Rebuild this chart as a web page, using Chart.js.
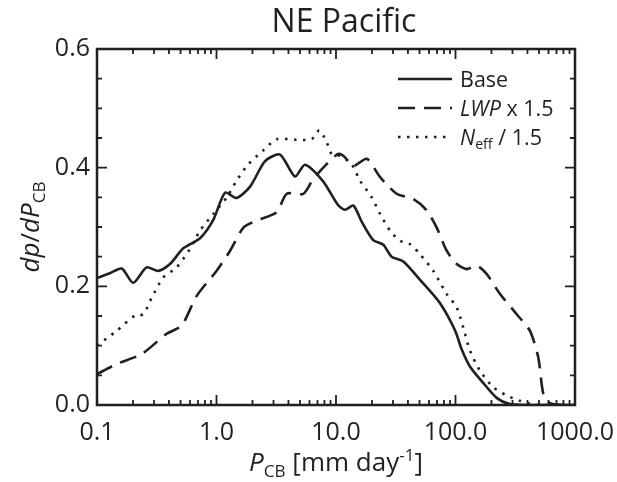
<!DOCTYPE html>
<html>
<head>
<meta charset="utf-8">
<script src="https://cdn.jsdelivr.net/npm/chart.js@4/dist/chart.umd.min.js"></script>
<style>
  html, body { margin: 0; padding: 0; background: #fff; }
</style>
</head>
<body>
<canvas id="chart" width="617" height="482" style="width:617px;height:482px"></canvas>
<script>
// values
const baseX = [0.1, 0.128, 0.161, 0.201, 0.26, 0.326, 0.41, 0.527, 0.728, 0.94, 1.18, 1.47, 1.91, 2.55, 3.40, 4.54, 5.5, 7.8, 10.4, 11.9, 14.0, 16.4, 20.5, 24.9, 29.2, 36.6, 50.5, 74, 99, 113, 132, 171, 221, 280, 400, 1000];
const baseY = [0.214, 0.222, 0.230, 0.206, 0.232, 0.226, 0.238, 0.264, 0.281, 0.312, 0.358, 0.349, 0.368, 0.411, 0.422, 0.385, 0.405, 0.377, 0.337, 0.329, 0.336, 0.309, 0.278, 0.270, 0.250, 0.242, 0.211, 0.172, 0.126, 0.093, 0.065, 0.037, 0.012, 0.002, 0, 0];

const lwpX = [0.1, 0.146, 0.237, 0.383, 0.511, 0.683, 1.0, 1.30, 1.68, 2.17, 3.19, 3.87, 5.33, 6.45, 8.35, 10.4, 11.5, 14.0, 18.1, 23.4, 32.2, 44.4, 57.4, 69.6, 84.4, 102, 124, 150, 182, 236, 325, 420, 493, 543, 618, 795, 1000];
const lwpY = [0.052, 0.069, 0.086, 0.120, 0.134, 0.184, 0.226, 0.260, 0.299, 0.311, 0.325, 0.356, 0.356, 0.381, 0.406, 0.423, 0.420, 0.403, 0.415, 0.384, 0.356, 0.347, 0.328, 0.299, 0.260, 0.238, 0.229, 0.235, 0.221, 0.187, 0.153, 0.125, 0.080, 0.019, 0.003, 0, 0];

const neffX = [0.1, 0.146, 0.208, 0.244, 0.287, 0.359, 0.464, 0.600, 0.728, 0.94, 1.22, 1.47, 1.85, 2.46, 3.19, 4.69, 6.26, 7.25, 8.35, 9.2, 10.8, 13.5, 15.9, 19.9, 23.4, 28.3, 34.3, 41.6, 50.5, 65.2, 84.4, 102, 116, 132, 160, 207, 268, 347, 478, 1000];
const neffY = [0.100, 0.125, 0.151, 0.153, 0.181, 0.215, 0.232, 0.263, 0.294, 0.322, 0.350, 0.378, 0.406, 0.429, 0.448, 0.447, 0.448, 0.463, 0.443, 0.423, 0.420, 0.406, 0.378, 0.350, 0.322, 0.294, 0.277, 0.271, 0.254, 0.226, 0.187, 0.165, 0.131, 0.092, 0.058, 0.030, 0.016, 0.007, 0, 0];

const xTickValues = [0.1, 1, 10, 100, 1000];
const xTickLabels = ['0.1', '1.0', '10.0', '100.0', '1000.0'];
const yTickValues = [0, 0.2, 0.4, 0.6];
const yTickLabels = ['0.0', '0.2', '0.4', '0.6'];

const FONT = '"Open Sans", "Noto Sans", sans-serif';
const INK = '#231f20';
const LW = 2.6;
const DASHED = [17, 9];
const DOTTED = [2.5, 6.5];

function toPoints(xs, ys) {
  return xs.map((x, i) => ({ x: x, y: ys[i] }));
}

// draws a run of text pieces (italic / subscript / superscript)
function drawRuns(ctx, runs, x, y, size, align) {
  const pieces = runs.map(r => {
    const s = (r.sub || r.sup) ? size * 0.66 : size;
    const font = (r.italic ? 'italic ' : '') + s + 'px ' + FONT;
    ctx.font = font;
    return { t: r.t, font: font, w: ctx.measureText(r.t).width, dy: r.sub ? size * 0.22 : (r.sup ? -size * 0.38 : 0) };
  });
  const total = pieces.reduce((a, p) => a + p.w, 0);
  let cx = align === 'center' ? x - total / 2 : x;
  ctx.textAlign = 'left';
  ctx.textBaseline = 'alphabetic';
  pieces.forEach(p => {
    ctx.font = p.font;
    ctx.fillText(p.t, cx, y + p.dy);
    cx += p.w;
  });
}

const framePlugin = {
  id: 'frame',
  afterDraw(chart) {
    const ctx = chart.ctx;
    const a = chart.chartArea;
    const xs = chart.scales.x, ys = chart.scales.y;
    ctx.save();
    ctx.strokeStyle = INK;
    ctx.fillStyle = INK;
    ctx.lineWidth = 2.5;
    ctx.setLineDash([]);
    ctx.strokeRect(a.left, a.top, a.right - a.left, a.bottom - a.top);

    // inward ticks on all four sides
    ctx.lineWidth = 1.8;
    ctx.beginPath();
    for (let i = 0; i <= 12; i++) {
      const v = i * 0.05;
      const py = ys.getPixelForValue(v);
      const len = i % 4 === 0 ? 10 : 5;
      ctx.moveTo(a.left, py); ctx.lineTo(a.left + len, py);
      ctx.moveTo(a.right, py); ctx.lineTo(a.right - len, py);
    }
    [0.1, 1, 10, 100].forEach(d => {
      for (let k = 1; k <= 9; k++) {
        const px = xs.getPixelForValue(d * k);
        const len = k === 1 ? 10 : 5;
        ctx.moveTo(px, a.bottom); ctx.lineTo(px, a.bottom - len);
        ctx.moveTo(px, a.top); ctx.lineTo(px, a.top + len);
      }
    });
    ctx.stroke();

    // title
    ctx.font = '32px ' + FONT;
    ctx.textAlign = 'center';
    ctx.textBaseline = 'alphabetic';
    ctx.fillText('NE Pacific', 344, 32);

    // x axis title
    drawRuns(ctx, [
      { t: 'P', italic: true }, { t: 'CB', sub: true }, { t: ' [mm day' }, { t: '-1', sup: true }, { t: ']' }
    ], 336, 471, 26, 'center');

    // y axis title
    ctx.save();
    ctx.translate(39, 227);
    ctx.rotate(-Math.PI / 2);
    drawRuns(ctx, [
      { t: 'dp', italic: true }, { t: '/' }, { t: 'dP', italic: true }, { t: 'CB', sub: true }
    ], 0, 0, 26, 'center');
    ctx.restore();

    // legend
    const entries = [
      { dash: [], y: 79, runs: [{ t: 'Base' }] },
      { dash: DASHED, y: 108, runs: [{ t: 'LWP', italic: true }, { t: ' x 1.5' }] },
      { dash: DOTTED, y: 137, runs: [{ t: 'N', italic: true }, { t: 'eff', sub: true }, { t: ' / 1.5' }] }
    ];
    entries.forEach(e => {
      ctx.lineWidth = LW;
      ctx.setLineDash(e.dash);
      ctx.beginPath();
      ctx.moveTo(398, e.y);
      ctx.lineTo(452, e.y);
      ctx.stroke();
      ctx.setLineDash([]);
      drawRuns(ctx, e.runs, 460, e.y + 7.5, 21.5, 'left');
    });
    ctx.restore();
  }
};

new Chart(document.getElementById('chart'), {
  type: 'line',
  data: {
    datasets: [
      { label: 'Base', data: toPoints(baseX, baseY), borderColor: INK, borderWidth: LW, pointRadius: 0, tension: 0.25, fill: false },
      { label: 'LWP x 1.5', data: toPoints(lwpX, lwpY), borderColor: INK, borderWidth: LW, borderDash: DASHED, pointRadius: 0, tension: 0.25, fill: false },
      { label: 'Neff / 1.5', data: toPoints(neffX, neffY), borderColor: INK, borderWidth: LW, borderDash: DOTTED, pointRadius: 0, tension: 0.25, fill: false }
    ]
  },
  options: {
    responsive: false,
    animation: false,
    devicePixelRatio: 1,
    layout: { padding: { left: 0, top: 49, right: 42, bottom: 0 } },
    plugins: { legend: { display: false }, title: { display: false }, tooltip: { enabled: false } },
    scales: {
      x: {
        type: 'logarithmic',
        min: 0.1,
        max: 1000,
        afterBuildTicks: s => { s.ticks = xTickValues.map(v => ({ value: v })); },
        afterFit: s => { s.height = 77; s.paddingLeft = 0; s.paddingRight = 0; },
        grid: { display: false, drawTicks: false },
        border: { display: false },
        ticks: {
          autoSkip: false,
          maxRotation: 0,
          padding: 13,
          color: INK,
          font: { family: FONT, size: 25 },
          callback: (v, i) => xTickLabels[i]
        }
      },
      y: {
        min: 0,
        max: 0.6,
        afterBuildTicks: s => { s.ticks = yTickValues.map(v => ({ value: v })); },
        afterFit: s => { s.width = 97; s.paddingTop = 0; s.paddingBottom = 0; },
        grid: { display: false, drawTicks: false },
        border: { display: false },
        ticks: {
          padding: 7,
          color: INK,
          font: { family: FONT, size: 25 },
          callback: (v, i) => yTickLabels[i]
        }
      }
    }
  },
  plugins: [framePlugin]
});
</script>
</body>
</html>
